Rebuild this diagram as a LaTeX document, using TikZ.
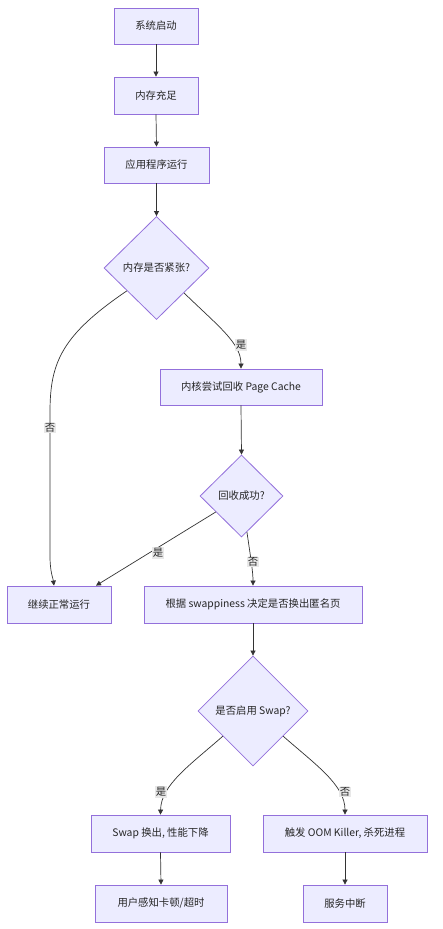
\documentclass[tikz,border=0pt]{standalone}
\usepackage{fontspec}
\setmainfont{Noto Sans CJK SC}
\usetikzlibrary{shapes.geometric,arrows.meta,calc}
\definecolor{nodefill}{HTML}{ECECFF}
\definecolor{nodeborder}{HTML}{9370DB}
\definecolor{edgecol}{HTML}{333333}
\definecolor{lblfill}{HTML}{E8E8E8}
\begin{document}
\begin{tikzpicture}[x=1bp,y=-1bp,
  box/.style={draw=nodeborder,fill=nodefill,line width=0.8bp,rectangle,inner sep=0pt,
    font=\fontsize{10.4}{12}\selectfont,text=black!85},
  dec/.style={draw=nodeborder,fill=nodefill,line width=0.8bp,diamond,inner sep=0pt,
    font=\fontsize{10.4}{12}\selectfont,text=black!85},
  conn/.style={draw=edgecol,line width=0.7bp,-{Triangle[length=5bp,width=5bp]}},
  lbl/.style={fill=lblfill,inner sep=1bp,font=\fontsize{10.4}{12}\selectfont,text=black!85}]
\useasboundingbox (0,0) rectangle (443,929);
\fill[white] (0,0) rectangle (443,929);

\node[box,minimum width=84bp,minimum height=36bp] (n1) at (156,26) {系统启动};
\node[box,minimum width=84bp,minimum height=37bp] (n2) at (156,95.5) {内存充足};
\node[box,minimum width=105bp,minimum height=36bp] (n3) at (156.5,165) {应用程序运行};
\node[dec,minimum width=105bp,minimum height=103bp] (d1) at (156.5,268) {内存是否紧张?};
\node[box,minimum width=162bp,minimum height=36bp] (n5) at (241,387) {内核尝试回收 Page Cache};
\node[dec,minimum width=83bp,minimum height=82bp] (d2) at (241.5,496) {回收成功?};
\node[box,minimum width=104bp,minimum height=37bp] (n7) at (59,604.5) {继续正常运行};
\node[box,minimum width=218bp,minimum height=37bp] (n8) at (253,604.5) {根据 swappiness 决定是否换出匿名页};
\node[dec,minimum width=110bp,minimum height=110bp] (d3) at (253,711) {是否启用 Swap?};
\node[box,minimum width=139bp,minimum height=37bp] (n10) at (160.5,833.5) {Swap 换出, 性能下降};
\node[box,minimum width=164bp,minimum height=37bp] (n11) at (345,833.5) {触发 OOM Killer, 杀死进程};
\node[box,minimum width=132bp,minimum height=37bp] (n12) at (161,903.5) {用户感知卡顿/超时};
\node[box,minimum width=84bp,minimum height=37bp] (n13) at (345,903.5) {服务中断};

\draw[conn] (n1.south) -- (n2.north);
\draw[conn] (n2.south) -- (n3.north);
\draw[conn] (n3.south) -- (d1.north);

% d1 -> n7 (否)
\coordinate (d1l) at ($(d1.west)!0.44!(d1.south)$);
\draw[conn] (d1l) .. controls (62,335) and (50,362) .. (50,412) -- (50,556)
  .. controls (50,572) and (53,578) .. ([xshift=-5bp]n7.north);
\node[lbl] (l1) at (50,428) {否};

% d1 -> n5 (是)
\coordinate (d1r) at ($(d1.south)!0.52!(d1.east)$);
\draw[conn] (d1r) .. controls (218,326) and (241,343) .. (n5.north);
\node[lbl] (l2) at (241,345) {是};

\draw[conn] (n5.south) -- (d2.north);

% d2 -> n7 (是)
\coordinate (d2l) at ($(d2.west)!0.386!(d2.south)$);
\draw[conn] (d2l) -- ([xshift=37bp]n7.north);
\node[lbl] (l3) at (158,553) {是};

% d2 -> n8 (否)
\coordinate (d2r) at ($(d2.south)!0.13!(d2.east)$);
\draw[conn] (d2r) .. controls (251,560) and (253,572) .. (n8.north);
\node[lbl] (l4) at (253,562) {否};

\draw[conn] (n8.south) -- (d3.north);

% d3 -> n10 (是)
\coordinate (d3l) at ($(d3.west)!0.455!(d3.south)$);
\draw[conn] (d3l) .. controls (190,765) and (161,785) .. (n10.north);
\node[lbl] (l5) at (161,792) {是};

% d3 -> n11 (否)
\coordinate (d3r) at ($(d3.south)!0.545!(d3.east)$);
\draw[conn] (d3r) .. controls (316,765) and (345,785) .. (n11.north);
\node[lbl] (l6) at (345,792) {否};

\draw[conn] (n10.south) -- (n12.north);
\draw[conn] (n11.south) -- (n13.north);
\end{tikzpicture}
\end{document}
